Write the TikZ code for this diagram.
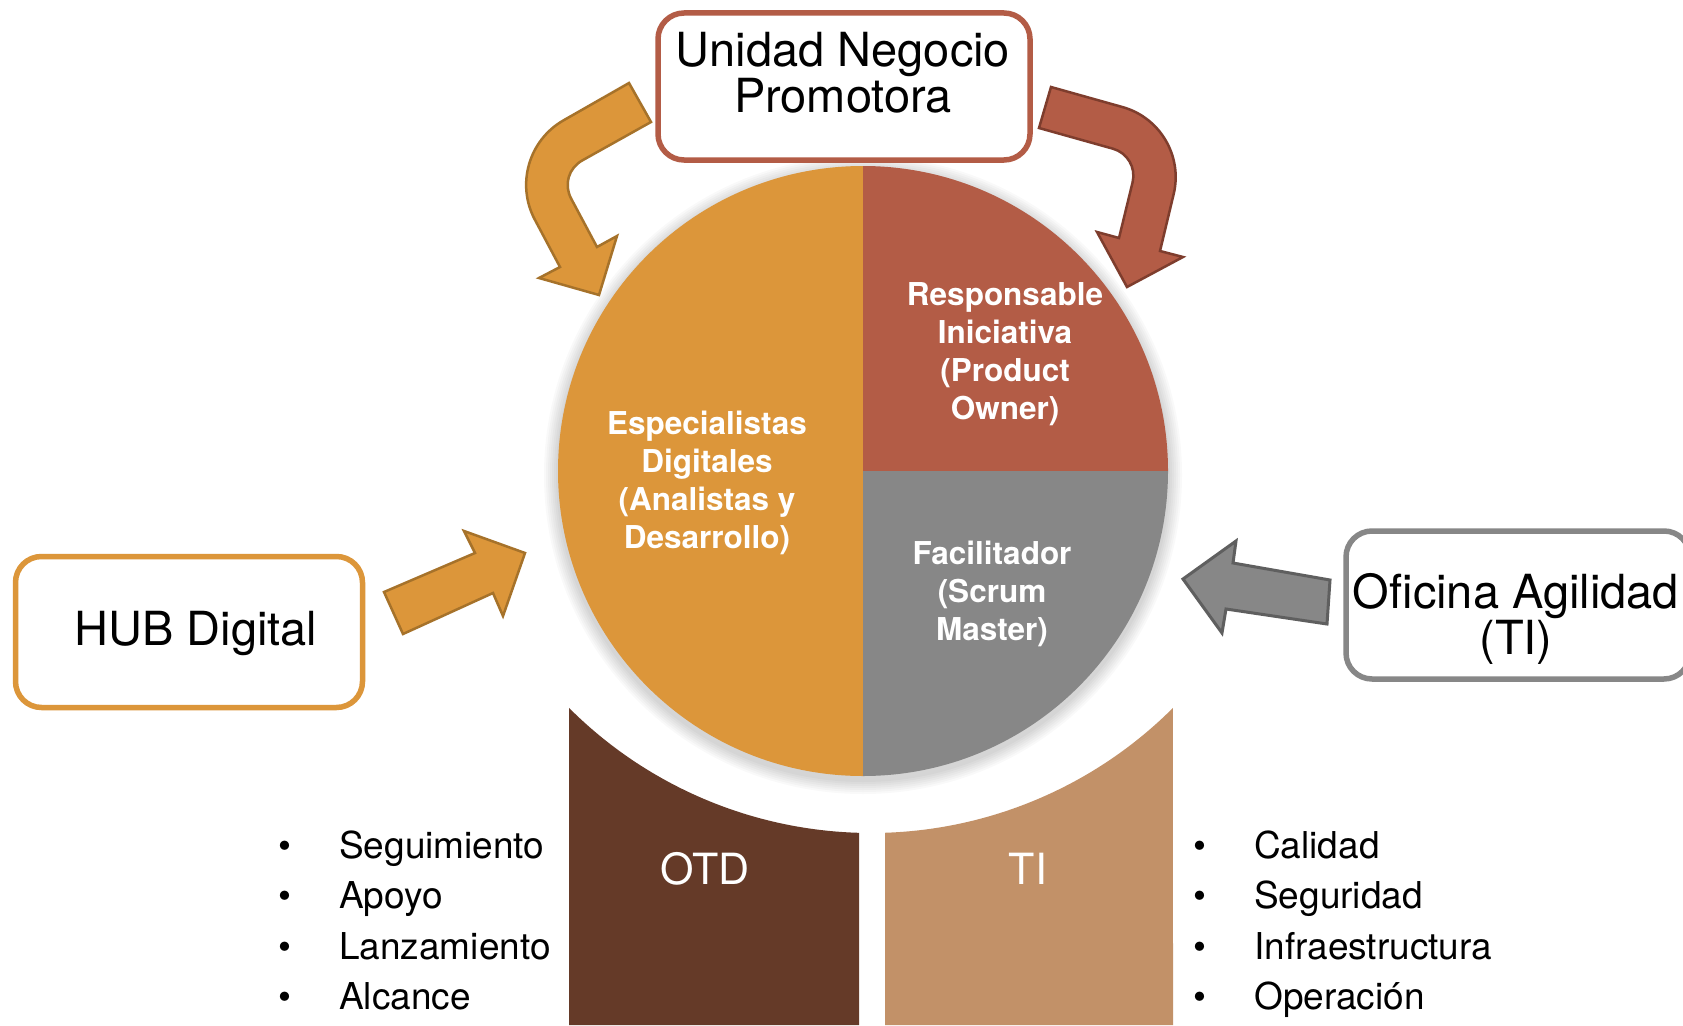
\documentclass[tikz,border=0pt]{standalone}
\usepackage{fontspec}
\setmainfont{TeX Gyre Heros}
\usetikzlibrary{calc}

\definecolor{naranja}{HTML}{DC963A}
\definecolor{naranjaosc}{HTML}{A6722A}
\definecolor{rojo}{HTML}{B35C46}
\definecolor{rojoosc}{HTML}{7E3D2D}
\definecolor{gris}{HTML}{878787}
\definecolor{grisosc}{HTML}{5F5F5F}
\definecolor{cafe}{HTML}{653A28}
\definecolor{canela}{HTML}{C29168}

\tikzset{
  caja/.style={line width=5.5pt, rounded corners=26pt, fill=white},
  flecha/.style={line width=2.5pt, line join=miter},
  txtcaja/.style={inner sep=0pt, align=center, font=\fontsize{47}{43}\selectfont},
  txtpie/.style={inner sep=0pt, align=center, text=white, font=\bfseries\fontsize{31.5}{38}\selectfont},
  txtlista/.style={inner sep=0pt, font=\fontsize{37}{44}\selectfont},
  txtbloque/.style={inner sep=0pt, text=white, font=\fontsize{43}{50}\selectfont},
}

\begin{document}
\begin{tikzpicture}[x=1pt, y=-1pt]
    \def\R{305} \def\Rc{427}
    \useasboundingbox (0,0) rectangle (1683,1025);
    \fill[white] (0,0) rectangle (1683,1025);
    \clip (0,0) rectangle (1683,1025);
    \coordinate (o) at (863,471);
    \coordinate (corte) at (871,406);

    % bloques OTD y TI
    \fill[cafe] (569,1025) -- ($ (corte) + (135:\Rc) $) arc[start angle=135, end angle=91.6, radius=\Rc] -- (859,1025) -- cycle;
    \fill[canela] (885,1025) -- ($ (corte) + (88.1:\Rc) $) arc[start angle=88.1, end angle=45, radius=\Rc] -- (1173,1025) -- cycle;

    % circulo
    \foreach \k in {2,4,...,14}
        \fill[black, opacity=.025] ($ (o) + (0,4) $) circle (\R+\k);
    \fill[naranja] (o) -- ++(0,-\R) arc[start angle=270, end angle=90, radius=\R] -- cycle;
    \fill[rojo] (o) -- ++(\R,0) arc[start angle=0, end angle=-90, radius=\R] -- cycle;
    \fill[gris] (o) -- ++(\R,0) arc[start angle=0, end angle=90, radius=\R] -- cycle;

    % cajas
    \draw[caja, draw=rojo] (658,13) rectangle (1030,160);
    \draw[caja, draw=naranja] (15.5,556.5) rectangle (362.5,707.5);
    \draw[caja, draw=gris] (1346,531) rectangle (1690,679);

    % flecha curva izquierda
    \coordinate (lt1) at (629,83);   \coordinate (lt2) at (651,122);
    \coordinate (loc) at (501,156);  \coordinate (lic) at (558,174);
    \coordinate (ls1) at (560,267);  \coordinate (ls2) at (597,247);
    \coordinate (lh1) at (539,278);  \coordinate (lh2) at (617,236);
    \coordinate (ltip) at (599,295);
    \filldraw[flecha, fill=naranja, draw=naranjaosc]
        (lt1) -- ($ (loc)!72pt!(lt1) $)
        .. controls ($ (loc)!32pt!(lt1) $) and ($ (loc)!32pt!(ls1) $) .. ($ (loc)!72pt!(ls1) $)
        -- (ls1) -- (lh1) -- (ltip) -- (lh2) -- (ls2) -- ($ (lic)!28pt!(ls2) $)
        .. controls ($ (lic)!12pt!(ls2) $) and ($ (lic)!12pt!(lt2) $) .. ($ (lic)!28pt!(lt2) $)
        -- (lt2) -- cycle;

    % flecha curva derecha
    \coordinate (rt1) at (1051,87);  \coordinate (rt2) at (1039,128);
    \coordinate (roc) at (1190,126); \coordinate (ric) at (1139,156);
    \coordinate (rs1) at (1160,251); \coordinate (rs2) at (1119,238);
    \coordinate (rh1) at (1183,257); \coordinate (rh2) at (1097,232);
    \coordinate (rtip) at (1127,287);
    \filldraw[flecha, fill=rojo, draw=rojoosc]
        (rt1) -- ($ (roc)!70pt!(rt1) $)
        .. controls ($ (roc)!31pt!(rt1) $) and ($ (roc)!31pt!(rs1) $) .. ($ (roc)!70pt!(rs1) $)
        -- (rs1) -- (rh1) -- (rtip) -- (rh2) -- (rs2) -- ($ (ric)!27pt!(rs2) $)
        .. controls ($ (ric)!12pt!(rs2) $) and ($ (ric)!12pt!(rt2) $) .. ($ (ric)!27pt!(rt2) $)
        -- (rt2) -- cycle;

    % flechas rectas
    \filldraw[flecha, fill=naranja, draw=naranjaosc] (384,592) -- (475,553) -- (464,531) -- (525,553) -- (503,616) -- (493,593) -- (403,634) -- cycle;
    \filldraw[flecha, line width=3pt, fill=gris, draw=grisosc] (1183,579) -- (1236,541) -- (1233,563) -- (1330,580) -- (1327,624) -- (1226,609) -- (1222,633) -- cycle;

    % textos (base = ultima linea)
    \node[txtcaja, anchor=base] (unidad) at (843,112) {Unidad Negocio\\Promotora};
    \node[txtcaja, anchor=base] (hub) at (196,645) {HUB Digital};
    \node[txtcaja, anchor=base] (oficina) at (1516,654) {Oficina Agilidad\\(TI)};
    \node[txtpie, anchor=base] (espec) at (707,548) {Especialistas\\Digitales\\(Analistas y\\Desarrollo)};
    \node[txtpie, anchor=base] (resp) at (1005,419) {Responsable\\Iniciativa\\(Product\\Owner)};
    \node[txtpie, anchor=base] (facil) at (992,640) {Facilitador\\(Scrum\\Master)};
    \node[txtbloque, anchor=base] (otd) at (705,884) {OTD};
    \node[txtbloque, anchor=base] (ti) at (1028,884) {TI};

    % listas
    \foreach \txt [count=\i] in {Seguimiento,Apoyo,Lanzamiento,Alcance} {
        \node[txtlista, anchor=base] (bi\i) at (285,{858+50.6*(\i-1)}) {\textbullet};
        \node[txtlista, anchor=base west] (li\i) at (339,{858+50.6*(\i-1)}) {\txt};
    }
    \foreach \txt [count=\i] in {Calidad,Seguridad,Infraestructura,Operación} {
        \node[txtlista, anchor=base] (bd\i) at (1200,{858+50.6*(\i-1)}) {\textbullet};
        \node[txtlista, anchor=base west] (ld\i) at (1254,{858+50.6*(\i-1)}) {\txt};
    }
\end{tikzpicture}
\end{document}
